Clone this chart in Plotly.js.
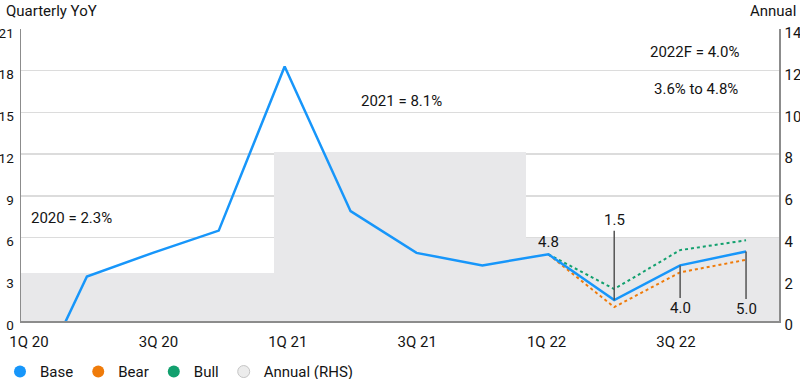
<!DOCTYPE html>
<html>
<head>
<meta charset="utf-8">
<script src="https://cdn.plot.ly/plotly-3.0.1.min.js"></script>
<style>
  html, body { margin: 0; padding: 0; background: #fff; }
  #chart { width: 800px; height: 379px; }
</style>
</head>
<body>
<div id="chart"></div>
<script>
// ---- data ----
const quarters = ['1Q 20','2Q 20','3Q 20','4Q 20','1Q 21','2Q 21','3Q 21','4Q 21','1Q 22','2Q 22','3Q 22','4Q 22'];
const base = [-6.8, 3.2, 4.9, 6.5, 18.3, 7.9, 4.9, 4.0, 4.8, 1.5, 4.0, 5.0];
const scenarioQuarters = ['1Q 22','2Q 22','3Q 22','4Q 22'];
const bear = [4.8, 1.0, 3.5, 4.4];
const bull = [4.8, 2.3, 5.1, 5.8];
const years = ['2020','2021','2022F'];
const annual = [2.3, 8.1, 4.0];
const annualRange = [3.6, 4.8];
const tickLabels = ['1Q 20','3Q 20','1Q 21','3Q 21','1Q 22','3Q 22'];

// ---- style ----
const FONT = 'Roboto, "Liberation Sans", Arial, sans-serif';
const TXT = '#141414';
const BLUE = '#1796fa', ORANGE = '#ef7b0a', GREEN = '#12a06e', GREY = '#e8e8ea';

const traces = [
  { type: 'bar', x: years, y: annual, xaxis: 'x', yaxis: 'y', width: 1,
    marker: { color: GREY, line: { width: 0 } }, showlegend: false, hoverinfo: 'skip' },
  { type: 'scatter', mode: 'lines', x: scenarioQuarters, y: bear, xaxis: 'x2', yaxis: 'y2',
    line: { color: ORANGE, width: 2, dash: 'dot' }, showlegend: false },
  { type: 'scatter', mode: 'lines', x: scenarioQuarters, y: bull, xaxis: 'x2', yaxis: 'y2',
    line: { color: GREEN, width: 2, dash: 'dot' }, showlegend: false },
  { type: 'scatter', mode: 'lines', x: quarters, y: base, xaxis: 'x2', yaxis: 'y2',
    line: { color: BLUE, width: 2.5 }, showlegend: false },
  // legend entries
  { type: 'scatter', mode: 'markers', x: [null], y: [null], xaxis: 'x3', yaxis: 'y2', name: 'Base',
    marker: { color: BLUE, size: 12, symbol: 'circle' } },
  { type: 'scatter', mode: 'markers', x: [null], y: [null], xaxis: 'x3', yaxis: 'y2', name: 'Bear',
    marker: { color: ORANGE, size: 12, symbol: 'circle' } },
  { type: 'scatter', mode: 'markers', x: [null], y: [null], xaxis: 'x3', yaxis: 'y2', name: 'Bull',
    marker: { color: GREEN, size: 12, symbol: 'circle' } },
  { type: 'scatter', mode: 'markers', x: [null], y: [null], xaxis: 'x3', yaxis: 'y2', name: 'Annual (RHS)',
    marker: { color: '#ececec', size: 12, symbol: 'circle', line: { color: '#c4c4c4', width: 1 } } }
];

const annotations = [];
annotations.push({ xref: 'paper', yref: 'paper', x: 0.0106, y: 0.352, xanchor: 'left', yanchor: 'middle',
  text: years[0] + ' = ' + annual[0].toFixed(1) + '%', showarrow: false });
annotations.push({ xref: 'paper', yref: 'paper', x: 0.5026, y: 0.753, xanchor: 'center', yanchor: 'middle',
  text: years[1] + ' = ' + annual[1].toFixed(1) + '%', showarrow: false });
annotations.push({ xref: 'paper', yref: 'paper', x: 0.889, y: 0.921, xanchor: 'center', yanchor: 'middle',
  text: years[2] + ' = ' + annual[2].toFixed(1) + '%', showarrow: false });
annotations.push({ xref: 'paper', yref: 'paper', x: 0.8905, y: 0.795, xanchor: 'center', yanchor: 'middle',
  text: annualRange[0].toFixed(1) + '% to ' + annualRange[1].toFixed(1) + '%', showarrow: false });
annotations.push({ xref: 'paper', yref: 'paper', x: -0.023, y: 1.063, xanchor: 'left', yanchor: 'middle',
  text: 'Quarterly YoY', showarrow: false });
annotations.push({ xref: 'paper', yref: 'paper', x: 1.025, y: 1.063, xanchor: 'right', yanchor: 'middle',
  text: 'Annual', showarrow: false });
const labelOffsets = { '1Q 22': null, '2Q 22': -80, '3Q 22': 43, '4Q 22': 58 };
scenarioQuarters.forEach(q => {
  const v = base[quarters.indexOf(q)];
  const off = labelOffsets[q];
  if (off === null) {
    annotations.push({ xref: 'x2', yref: 'y2', x: q, y: v, text: v.toFixed(1), showarrow: false,
      yshift: 12, yanchor: 'middle' });
  } else {
    annotations.push({ xref: 'x2', yref: 'y2', x: q, y: v, text: v.toFixed(1), showarrow: true,
      axref: 'pixel', ayref: 'pixel', ax: 0, ay: off, arrowhead: 0, arrowwidth: 1.5,
      arrowcolor: '#555', standoff: 0, startstandoff: 0 });
  }
});

const layout = {
  width: 800, height: 379,
  margin: { l: 21, r: 21, t: 28.5, b: 58, pad: 0 },
  paper_bgcolor: '#fff', plot_bgcolor: '#fff',
  font: { family: FONT, size: 15, color: TXT },
  bargap: 0,
  showlegend: true,
  legend: { orientation: 'h', xref: 'container', yref: 'container', x: -0.015, y: 0.019,
    xanchor: 'left', yanchor: 'middle', font: { size: 15, color: TXT }, itemwidth: 30,
    bgcolor: 'rgba(0,0,0,0)' },
  xaxis: { type: 'category', categoryorder: 'array', categoryarray: years, range: [-0.5, 2.5],
    showticklabels: false, ticks: '', showgrid: false, zeroline: false,
    showline: true, linecolor: '#8c8c8c', linewidth: 1.5, fixedrange: true },
  yaxis: { side: 'right', range: [0, 14], dtick: 2, tick0: 0, showgrid: true, gridcolor: '#dcdcdc',
    gridwidth: 1.5, zeroline: false, showline: true, linecolor: '#8c8c8c', linewidth: 1.5,
    ticks: '', ticklabelstandoff: 1, ticklabelshift: 4, tickfont: { size: 15, color: TXT } },
  xaxis2: { type: 'category', categoryorder: 'array', categoryarray: quarters, overlaying: 'x',
    anchor: 'y2', side: 'bottom', range: [0, 11.5], showticklabels: false,
    showgrid: false, zeroline: false, showline: false, ticks: '' },
  // label-only axis for the quarter tick labels
  xaxis3: { type: 'category', categoryorder: 'array', categoryarray: quarters, overlaying: 'x',
    anchor: 'y2', side: 'bottom', range: [-0.124, 11.592], tickvals: tickLabels, ticktext: tickLabels,
    showgrid: false, zeroline: false, showline: false, ticks: '', ticklabelstandoff: 10,
    tickfont: { size: 15, color: TXT } },
  yaxis2: { overlaying: 'y', anchor: 'x2', side: 'left', range: [0, 21], dtick: 3, tick0: 0,
    showgrid: false, zeroline: false, showline: true, linecolor: '#8c8c8c', linewidth: 1.5,
    ticks: '', ticklabelstandoff: 3, ticklabelshift: 4, tickfont: { size: 13.5, color: TXT } },
  annotations: annotations
};

Plotly.newPlot('chart', traces, layout, { displayModeBar: false, staticPlot: true });
</script>
</body>
</html>
